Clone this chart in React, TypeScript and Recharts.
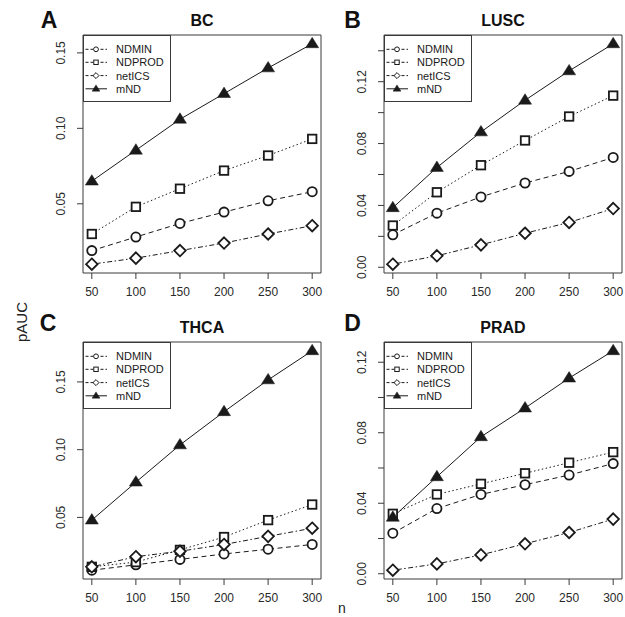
import React from 'react';
import { LineChart, Line, XAxis, YAxis, ReferenceArea, Legend } from 'recharts';

const FONT = '"Liberation Sans", Arial, Helvetica, sans-serif';

const nValues = [50, 100, 150, 200, 250, 300];
const seriesNames = ['NDMIN', 'NDPROD', 'netICS', 'mND'];

// Panel A: BC
const bcNDMIN = [0.019, 0.028, 0.037, 0.0445, 0.052, 0.058];
const bcNDPROD = [0.030, 0.048, 0.060, 0.072, 0.082, 0.093];
const bcNetICS = [0.010, 0.014, 0.019, 0.024, 0.030, 0.0355];
const bcMND = [0.065, 0.0855, 0.106, 0.123, 0.140, 0.156];

// Panel B: LUSC
const luscNDMIN = [0.021, 0.035, 0.0455, 0.0545, 0.062, 0.071];
const luscNDPROD = [0.027, 0.0485, 0.066, 0.082, 0.0975, 0.111];
const luscNetICS = [0.002, 0.0074, 0.0145, 0.022, 0.029, 0.038];
const luscMND = [0.0385, 0.0645, 0.0875, 0.108, 0.127, 0.1445];

// Panel C: THCA
const thcaNDMIN = [0.011, 0.015, 0.019, 0.023, 0.0265, 0.030];
const thcaNDPROD = [0.0135, 0.017, 0.026, 0.0355, 0.048, 0.0595];
const thcaNetICS = [0.0135, 0.021, 0.025, 0.030, 0.036, 0.042];
const thcaMND = [0.048, 0.076, 0.1035, 0.128, 0.1515, 0.173];

// Panel D: PRAD
const pradNDMIN = [0.023, 0.037, 0.045, 0.0505, 0.056, 0.0625];
const pradNDPROD = [0.034, 0.045, 0.051, 0.057, 0.063, 0.069];
const pradNetICS = [0.002, 0.0056, 0.0107, 0.017, 0.0234, 0.031];
const pradMND = [0.032, 0.055, 0.0777, 0.094, 0.111, 0.1265];

// Tick values
const xTicks = [50, 100, 150, 200, 250, 300];
const yTicksBC = [0.05, 0.1, 0.15];
const yTicksLUSC = [0, 0.02, 0.04, 0.06, 0.08, 0.1, 0.12, 0.14];
const yLabelsLUSC = [0, 0.04, 0.08, 0.12];
const yTicksTHCA = [0.05, 0.1, 0.15];
const yTicksPRAD = [0, 0.02, 0.04, 0.06, 0.08, 0.1, 0.12];
const yLabelsPRAD = [0, 0.04, 0.08, 0.12];

const styles: Record<string, { dash?: string; shape: string }> = {
  NDMIN: { dash: '5 3.5', shape: 'circle' },
  NDPROD: { dash: '1.5 2.5', shape: 'square' },
  netICS: { dash: '1.5 2.5 5 2.5', shape: 'diamond' },
  mND: { dash: undefined, shape: 'triangle' },
};

const INK = '#1a1a1a';
const AXIS = '#3a3a3a';

function Marker({ shape, cx, cy, s, sw }: { shape: string; cx: number; cy: number; s: number; sw: number }) {
  if (shape === 'circle') {
    return <circle cx={cx} cy={cy} r={s * 0.92} fill="#fff" stroke={INK} strokeWidth={sw} />;
  }
  if (shape === 'square') {
    const h = s * 0.85;
    return <rect x={cx - h} y={cy - h} width={2 * h} height={2 * h} fill="#fff" stroke={INK} strokeWidth={sw} />;
  }
  if (shape === 'diamond') {
    const h = s * 1.15;
    return (
      <polygon
        points={`${cx},${cy - h} ${cx + h},${cy} ${cx},${cy + h} ${cx - h},${cy}`}
        fill="#fff"
        stroke={INK}
        strokeWidth={sw}
      />
    );
  }
  const h = s * 1.3;
  return (
    <polygon
      points={`${cx},${cy - h} ${cx + h * 1.0},${cy + h * 0.6} ${cx - h * 1.0},${cy + h * 0.6}`}
      fill={INK}
      stroke={INK}
      strokeWidth={0.5}
    />
  );
}

const makeDot = (shape: string) => (props: any) => {
  const { cx, cy, key, index } = props;
  if (cx == null || cy == null) return <g key={key ?? index} />;
  return (
    <g key={key ?? `${shape}-${index}`}>
      <Marker shape={shape} cx={cx} cy={cy} s={5} sw={1.8} />
    </g>
  );
};

const LegendBox = () => {
  const w = 87;
  const h = 66;
  const rowY = [14.3, 27.3, 40.6, 53.8];
  return (
    <svg width={w + 1} height={h + 1} style={{ display: 'block' }}>
      <rect x={0.5} y={0.5} width={w} height={h} fill="#fff" stroke={AXIS} strokeWidth={1} />
      {seriesNames.map((name, i) => {
        const st = styles[name];
        const y = rowY[i];
        return (
          <g key={name}>
            <line x1={2.5} x2={24} y1={y} y2={y} stroke={INK} strokeWidth={1} strokeDasharray={st.dash ? '3 2' : undefined} />
            {st.shape === 'triangle' ? (
              <Marker shape="triangle" cx={13} cy={y} s={3} sw={1} />
            ) : (
              <Marker shape={st.shape} cx={13} cy={y} s={2.6} sw={1} />
            )}
            <text x={33} y={y} dominantBaseline="central" fontSize={11} fontFamily={FONT} fill={INK}>
              {name}
            </text>
          </g>
        );
      })}
    </svg>
  );
};

const YTick = (props: any) => {
  const { x, y, payload, labels } = props;
  const v = payload.value;
  const show = !labels || labels.some((l: number) => Math.abs(l - v) < 1e-9);
  if (!show) return <g />;
  const px = x - 14;
  return (
    <text
      x={px}
      y={y}
      transform={`rotate(-90 ${px} ${y})`}
      textAnchor="middle"
      dominantBaseline="central"
      fontSize={12}
      fontFamily={FONT}
      fill="#2a2a2a"
    >
      {v.toFixed(2)}
    </text>
  );
};

type PanelCfg = {
  letter: string;
  title: string;
  series: Record<string, number[]>;
  yTicks: number[];
  yLabels?: number[];
  left: number;
  top: number;
  width: number;
  height: number;
  letterX: number;
  letterY: number;
  margin: { top: number; left: number; right: number; bottom: number };
};

const panels: PanelCfg[] = [
  {
    letter: 'A',
    title: 'BC',
    series: { NDMIN: bcNDMIN, NDPROD: bcNDPROD, netICS: bcNetICS, mND: bcMND },
    yTicks: yTicksBC,
    left: 0,
    top: 0,
    width: 325,
    height: 300,
    letterX: 49,
    letterY: 19.5,
    margin: { top: 35, left: 43, right: 4, bottom: 2 },
  },
  {
    letter: 'B',
    title: 'LUSC',
    series: { NDMIN: luscNDMIN, NDPROD: luscNDPROD, netICS: luscNetICS, mND: luscMND },
    yTicks: yTicksLUSC,
    yLabels: yLabelsLUSC,
    left: 310,
    top: 0,
    width: 315,
    height: 300,
    letterX: 352.5,
    letterY: 19.5,
    margin: { top: 35, left: 34, right: 3, bottom: 2 },
  },
  {
    letter: 'C',
    title: 'THCA',
    series: { NDMIN: thcaNDMIN, NDPROD: thcaNDPROD, netICS: thcaNetICS, mND: thcaMND },
    yTicks: yTicksTHCA,
    left: 0,
    top: 300,
    width: 325,
    height: 317,
    letterX: 48,
    letterY: 322.5,
    margin: { top: 42, left: 43, right: 4, bottom: 13 },
  },
  {
    letter: 'D',
    title: 'PRAD',
    series: { NDMIN: pradNDMIN, NDPROD: pradNDPROD, netICS: pradNetICS, mND: pradMND },
    yTicks: yTicksPRAD,
    yLabels: yLabelsPRAD,
    left: 310,
    top: 300,
    width: 315,
    height: 317,
    letterX: 352.5,
    letterY: 323,
    margin: { top: 42, left: 34, right: 3, bottom: 13 },
  },
];

const X_DOMAIN: [number, number] = [40, 310];

function Panel({ cfg }: { cfg: PanelCfg }) {
  const rows = nValues.map((n, i) => {
    const r: any = { n };
    seriesNames.forEach((s) => (r[s] = cfg.series[s][i]));
    return r;
  });
  const all = seriesNames.flatMap((s) => cfg.series[s]);
  const mn = Math.min(...all);
  const mx = Math.max(...all);
  const pad = (mx - mn) * 0.04;
  const yDomain: [number, number] = [mn - pad, mx + pad];
  const yAxisW = 40;
  const plotLeft = cfg.margin.left + yAxisW;
  const plotRight = cfg.width - cfg.margin.right;
  const plotTop = cfg.margin.top;
  const plotCx = cfg.left + (plotLeft + plotRight) / 2;

  return (
    <>
      <div
        style={{
          position: 'absolute',
          left: cfg.letterX,
          top: cfg.letterY,
          transform: 'translate(-50%, -50%)',
          fontFamily: FONT,
          fontWeight: 'bold',
          fontSize: 23,
          color: '#111',
          lineHeight: 1,
        }}
      >
        {cfg.letter}
      </div>
      <div
        style={{
          position: 'absolute',
          left: plotCx,
          top: cfg.top + plotTop - 14.5,
          transform: 'translate(-50%, -50%)',
          fontFamily: FONT,
          fontWeight: 'bold',
          fontSize: 16,
          color: '#111',
          lineHeight: 1,
          whiteSpace: 'nowrap',
        }}
      >
        {cfg.title}
      </div>
      <div style={{ position: 'absolute', left: cfg.left, top: cfg.top }}>
        <LineChart width={cfg.width} height={cfg.height} data={rows} margin={cfg.margin}>
          <XAxis
            dataKey="n"
            type="number"
            domain={X_DOMAIN}
            ticks={xTicks}
            interval={0}
            allowDataOverflow
            height={25}
            tickSize={6}
            tickMargin={8}
            axisLine={false}
            tickLine={{ stroke: AXIS }}
            tick={{ fontSize: 12, fill: '#2a2a2a', fontFamily: FONT }}
          />
          <YAxis
            type="number"
            domain={yDomain}
            ticks={cfg.yTicks}
            interval={0}
            allowDataOverflow
            width={yAxisW}
            tickSize={6}
            axisLine={false}
            tickLine={{ stroke: AXIS }}
            tick={<YTick labels={cfg.yLabels} />}
          />
          <ReferenceArea
            x1={X_DOMAIN[0]}
            x2={X_DOMAIN[1]}
            y1={yDomain[0]}
            y2={yDomain[1]}
            fill="none"
            fillOpacity={0}
            stroke={AXIS}
            strokeWidth={1}
            ifOverflow="visible"
          />
          {seriesNames.map((s) => (
            <Line
              key={s}
              dataKey={s}
              type="linear"
              stroke={INK}
              strokeWidth={1}
              strokeDasharray={styles[s].dash}
              dot={makeDot(styles[s].shape)}
              activeDot={false}
              isAnimationActive={false}
            />
          ))}
          <Legend
            layout="vertical"
            align="center"
            verticalAlign="middle"
            content={() => <LegendBox />}
            wrapperStyle={{ position: 'absolute', left: plotLeft, top: plotTop, width: 88, height: 67 }}
          />
        </LineChart>
      </div>
    </>
  );
}

export default function App() {
  return (
    <div style={{ position: 'absolute', left: 0, top: 0, width: 625, height: 617, background: '#fff', overflow: 'hidden' }}>
      {panels.map((p) => (
        <Panel key={p.letter} cfg={p} />
      ))}
      <div
        style={{
          position: 'absolute',
          left: 21,
          top: 322,
          transform: 'translate(-50%, -50%) rotate(-90deg)',
          fontFamily: FONT,
          fontSize: 15,
          color: '#222',
          lineHeight: 1,
        }}
      >
        pAUC
      </div>
      <div
        style={{
          position: 'absolute',
          left: 342,
          top: 608,
          transform: 'translate(-50%, -50%)',
          fontFamily: FONT,
          fontSize: 14,
          color: '#222',
          lineHeight: 1,
        }}
      >
        n
      </div>
    </div>
  );
}
